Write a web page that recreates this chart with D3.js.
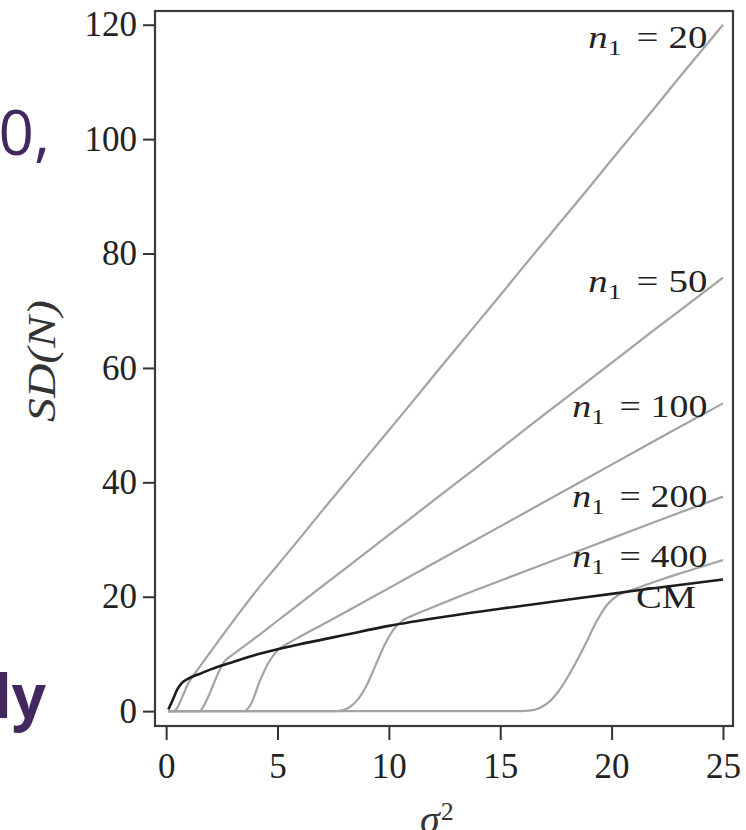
<!DOCTYPE html>
<html>
<head>
<meta charset="utf-8">
<script src="https://cdn.jsdelivr.net/npm/d3@7"></script>
<style>
  body { margin: 0; background: #fff; }
  svg { display: block; }
</style>
</head>
<body>
<svg id="chart"></svg>
<script>
// values: sigma^2 on x, SD(N) on y
const cmX = [0.1, 0.3, 0.5, 0.7, 1, 1.5, 2, 3, 4, 5, 6, 7, 8, 10, 12.5, 15, 17.5, 20, 22.5, 25];
const cmY = [0.3, 2, 3.8, 4.9, 5.7, 6.5, 7.3, 8.6, 9.8, 10.8, 11.7, 12.5, 13.3, 14.9, 16.5, 17.9, 19.2, 20.5, 21.8, 23];

const n20X = [0.1, 0.35, 0.5, 0.75, 1, 1.5, 2, 3, 4, 5, 6, 7, 8, 9, 10, 11, 12, 13, 14, 15, 16, 17, 18, 19, 20, 21, 22, 23, 24, 25];
const n20Y = [0, 0, 0.6, 2.7, 4.9, 7.7, 10.4, 15.7, 20.8, 25.5, 30.2, 35, 39.7, 44.4, 49.1, 53.8, 58.6, 63.3, 68, 72.7, 77.5, 82.2, 86.9, 91.6, 96.4, 101.1, 105.8, 110.6, 115.3, 120];

const n50X = [0.1, 1.5, 1.7, 2, 2.3, 2.6, 3, 4, 5, 6, 8, 10, 12, 14, 16, 18, 20, 22, 24, 25];
const n50Y = [0, 0, 1, 3.5, 6.3, 8.6, 9.9, 12.8, 15.8, 18.8, 24.8, 30.8, 36.8, 42.8, 48.9, 54.9, 60.9, 66.9, 72.8, 75.8];

const n100X = [0.1, 3.5, 3.8, 4.2, 4.6, 5, 5.5, 6, 7, 8, 10, 12.5, 15, 17.5, 20, 22.5, 25];
const n100Y = [0, 0, 1.2, 5.2, 8.5, 10.6, 11.9, 13, 15.1, 17.2, 21.5, 26.9, 32.3, 37.7, 43.1, 48.5, 53.8];

const n200X = [0.1, 7.7, 8.2, 8.6, 9, 9.4, 9.8, 10.2, 10.6, 11, 12, 13, 15, 17.5, 20, 22.5, 25];
const n200Y = [0, 0, 0.6, 2, 4.5, 8, 11.5, 14.2, 15.8, 16.6, 18.2, 19.8, 22.8, 26.5, 30.2, 33.9, 37.5];

const n400X = [0.1, 15.5, 16.3, 16.8, 17.3, 17.8, 18.3, 18.8, 19.3, 19.8, 20.3, 21, 22, 23, 24, 25];
const n400Y = [0, 0, 0.1, 0.6, 2, 4.5, 7.8, 11.5, 15.5, 18.6, 20.3, 21.3, 22.7, 24, 25.2, 26.4];

const n1Values = ["20", "50", "100", "200", "400"];
// where each label sits, in data units (right end of the text, baseline)
const labelY = [116, 73.3, 51.4, 35.7, 25.2];

const xTicks = [0, 5, 10, 15, 20, 25];
const yTicks = [0, 20, 40, 60, 80, 100, 120];

const width = 746, height = 830;
const frame = {left: 155, top: 11, right: 733, bottom: 726};

const svg = d3.select("#chart")
    .attr("width", width)
    .attr("height", height);

const x = d3.scaleLinear().domain([-0.5, 25.45]).range([frame.left, frame.right]);
const y = d3.scaleLinear().domain([-2.6, 122.4]).range([frame.bottom, frame.top]);

const serif = "'Liberation Serif', 'Times New Roman', serif";

//axes, ticks sit outside the frame
svg.append("g")
    .attr("transform", "translate(0," + frame.bottom + ")")
    .call(d3.axisBottom(x).tickValues(xTicks).tickSize(14).tickPadding(13).tickFormat(d3.format("d")))
    .call(g => g.select(".domain").remove())
    .call(g => g.selectAll("line").attr("stroke", "#333").attr("stroke-width", 2))
    .call(g => g.selectAll("text").attr("font-family", serif).attr("font-size", 35).attr("fill", "#222"));

svg.append("g")
    .attr("transform", "translate(" + frame.left + ",0)")
    .call(d3.axisLeft(y).tickValues(yTicks).tickSize(12).tickPadding(6).tickFormat(d3.format("d")))
    .call(g => g.select(".domain").remove())
    .call(g => g.selectAll("line").attr("stroke", "#333").attr("stroke-width", 2))
    .call(g => g.selectAll("text").attr("font-family", serif).attr("font-size", 35).attr("fill", "#222"));

//the box round the plot
svg.append("rect")
    .attr("x", frame.left)
    .attr("y", frame.top)
    .attr("width", frame.right - frame.left)
    .attr("height", frame.bottom - frame.top)
    .attr("fill", "none")
    .attr("stroke", "#3a3a3a")
    .attr("stroke-width", 2.2);

const series = [[n20X, n20Y], [n50X, n50Y], [n100X, n100Y], [n200X, n200Y], [n400X, n400Y]];

function pathFor(xs, ys) {
    return d3.line()
        .x((d, i) => x(xs[i]))
        .y(d => y(d))
        .curve(d3.curveMonotoneX)(ys);
}

//grey n1 curves
series.forEach(s => {
    svg.append("path")
        .attr("d", pathFor(s[0], s[1]))
        .attr("fill", "none")
        .attr("stroke", "#a3a3a3")
        .attr("stroke-width", 2.2);
});

//CM curve on top
svg.append("path")
    .attr("d", pathFor(cmX, cmY))
    .attr("fill", "none")
    .attr("stroke", "#1c1c1c")
    .attr("stroke-width", 2.6);

//labels n_1 = ...
n1Values.forEach((v, i) => {
    const t = svg.append("text")
        .attr("x", x(24.3))
        .attr("y", y(labelY[i]))
        .attr("text-anchor", "end")
        .attr("font-family", serif)
        .attr("font-size", 31)
        .attr("fill", "#222")
        .attr("textLength", v.length == 2 ? 119 : 135)
        .attr("lengthAdjust", "spacingAndGlyphs");
    t.append("tspan").attr("font-style", "italic").text("n");
    t.append("tspan").attr("font-size", 22).attr("dy", 7).text("1");
    t.append("tspan").attr("dy", -7).attr("dx", 12).text("=");
    t.append("tspan").attr("dx", 8).text(v);
});

svg.append("text")
    .attr("x", x(21.1))
    .attr("y", y(18))
    .attr("font-family", serif)
    .attr("font-size", 32)
    .attr("fill", "#222")
    .attr("textLength", 60)
    .attr("lengthAdjust", "spacingAndGlyphs")
    .text("CM");

//axis titles
svg.append("text")
    .attr("transform", "translate(55,361) rotate(-90)")
    .attr("text-anchor", "middle")
    .attr("font-family", serif)
    .attr("font-style", "italic")
    .attr("font-size", 40)
    .attr("fill", "#333")
    .attr("textLength", 122)
    .attr("lengthAdjust", "spacingAndGlyphs")
    .text("SD(N)");

const xt = svg.append("text")
    .attr("x", 420)
    .attr("y", 833)
    .attr("font-family", serif)
    .attr("font-size", 40)
    .attr("fill", "#333");
xt.append("tspan").attr("font-style", "italic").text("σ");
xt.append("tspan").attr("font-size", 26).attr("dx", 1).attr("dy", -13).text("2");

//bits of slide text cut off at the left edge
svg.append("text")
    .attr("x", 50)
    .attr("y", 155)
    .attr("text-anchor", "end")
    .attr("font-family", "'Open Sans', 'Noto Sans', sans-serif")
    .attr("font-size", 62)
    .attr("fill", "#43275f")
    .text("0,");

svg.append("text")
    .attr("x", 46)
    .attr("y", 718)
    .attr("text-anchor", "end")
    .attr("font-family", "'Open Sans', 'Noto Sans', sans-serif")
    .attr("font-weight", "bold")
    .attr("font-size", 60)
    .attr("fill", "#43275f")
    .text("ly");
</script>
</body>
</html>
